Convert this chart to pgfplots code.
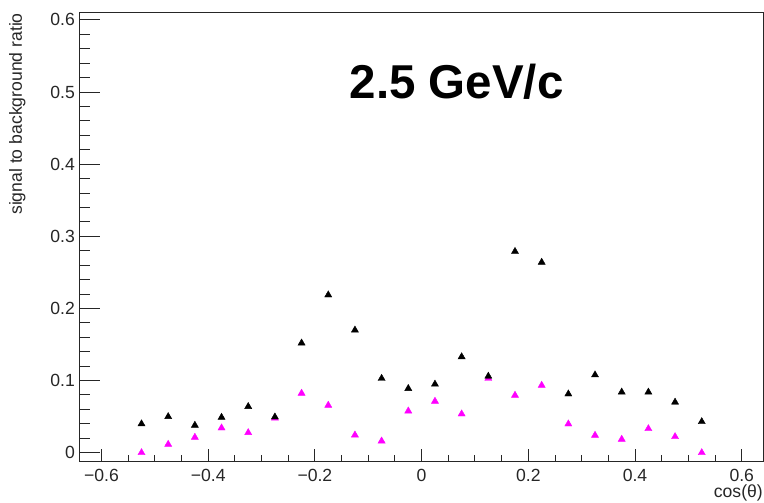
\documentclass[border=0pt]{standalone}
\usepackage{pgfplots}
\pgfplotsset{compat=1.18}
\usepackage{fontspec}
\setmainfont{Liberation Sans}

% signal-to-background ratio per cos(theta) bin
\pgfplotstableread{
x       sb      sbm
-0.525  0.040   0.000
-0.475  0.050   0.0116
-0.425  0.038   0.0213
-0.375  0.049   0.0343
-0.325  0.064   0.0278
-0.275  0.0495  0.048
-0.225  0.152   0.0824
-0.175  0.2187  0.0657
-0.125  0.170   0.0245
-0.075  0.103   0.0162
-0.025  0.089   0.0578
 0.025  0.095   0.0713
 0.075  0.133   0.0537
 0.125  0.106   0.103
 0.175  0.279   0.0796
 0.225  0.264   0.0934
 0.275  0.0814  0.0398
 0.325  0.1078  0.0241
 0.375  0.084   0.0186
 0.425  0.084   0.0333
 0.475  0.070   0.0222
 0.525  0.043   0.000
}\sbdata

\definecolor{rootmagenta}{rgb}{1,0,1}
\definecolor{framegray}{gray}{0.15}

\begin{document}
\begin{tikzpicture}
\begin{axis}[
  scale only axis,
  width=684pt, height=449.7pt,
  xmin=-0.6416, xmax=0.6404,
  ymin=-0.0125, ymax=0.611,
  axis line style={framegray, line width=1pt},
  tick pos=left,
  tick align=inside,
  xtick={-0.6,-0.4,-0.2,0,0.2,0.4,0.6},
  xticklabels={−0.6,−0.4,−0.2,0,0.2,0.4,0.6},
  minor xtick={-0.55,-0.5,-0.45,-0.35,-0.3,-0.25,-0.15,-0.1,-0.05,0.05,0.1,0.15,0.25,0.3,0.35,0.45,0.5,0.55},
  ytick={0,0.1,0.2,0.3,0.4,0.5,0.6},
  yticklabels={0,0.1,0.2,0.3,0.4,0.5,0.6},
  minor ytick={0.02,0.04,0.06,0.08,0.12,0.14,0.16,0.18,0.22,0.24,0.26,0.28,0.32,0.34,0.36,0.38,0.42,0.44,0.46,0.48,0.52,0.54,0.56,0.58},
  xtick style={framegray, line width=1pt, /pgfplots/major tick length=13pt, /pgfplots/minor tick length=7pt},
  ytick style={framegray, line width=1pt, /pgfplots/major tick length=21pt, /pgfplots/minor tick length=11pt},
  ticklabel style={font=\fontsize{17.6}{20}\selectfont, text=black!85, inner sep=0pt},
  xticklabel style={anchor=north, yshift=-7pt},
  yticklabel style={anchor=east, xshift=-4.3pt},
  clip=false,
]
\addplot[only marks, mark=triangle*, mark size=4.1pt, color=rootmagenta] table[x=x, y=sbm] {\sbdata};
\addplot[only marks, mark=triangle*, mark size=4.1pt, color=black] table[x=x, y=sb] {\sbdata};

\coordinate (bl) at (rel axis cs:0,0);
\coordinate (tr) at (rel axis cs:1,1);
\coordinate (tl) at (rel axis cs:0,1);
\coordinate (br) at (rel axis cs:1,0);
\end{axis}
% titles and labels
\node[anchor=center, inner sep=0pt, font=\fontsize{47.5}{52}\selectfont\bfseries]
  at ([xshift=377.4pt, yshift=-69.7pt]tl) {2.5 GeV/c};
\node[anchor=east, rotate=90, inner sep=0pt, font=\fontsize{17.6}{20}\selectfont, text=black!85]
  at ([xshift=-62pt, yshift=-1pt]tl) {signal to background ratio};
\node[anchor=east, inner sep=0pt, font=\fontsize{17.6}{20}\selectfont, text=black!85]
  at ([xshift=-0.3pt, yshift=-31.3pt]br) {cos(θ)};
% page extent
\path ([xshift=-79.3pt, yshift=-40.3pt]bl) rectangle ([xshift=0.7pt, yshift=12pt]tr);
\end{tikzpicture}
\end{document}
